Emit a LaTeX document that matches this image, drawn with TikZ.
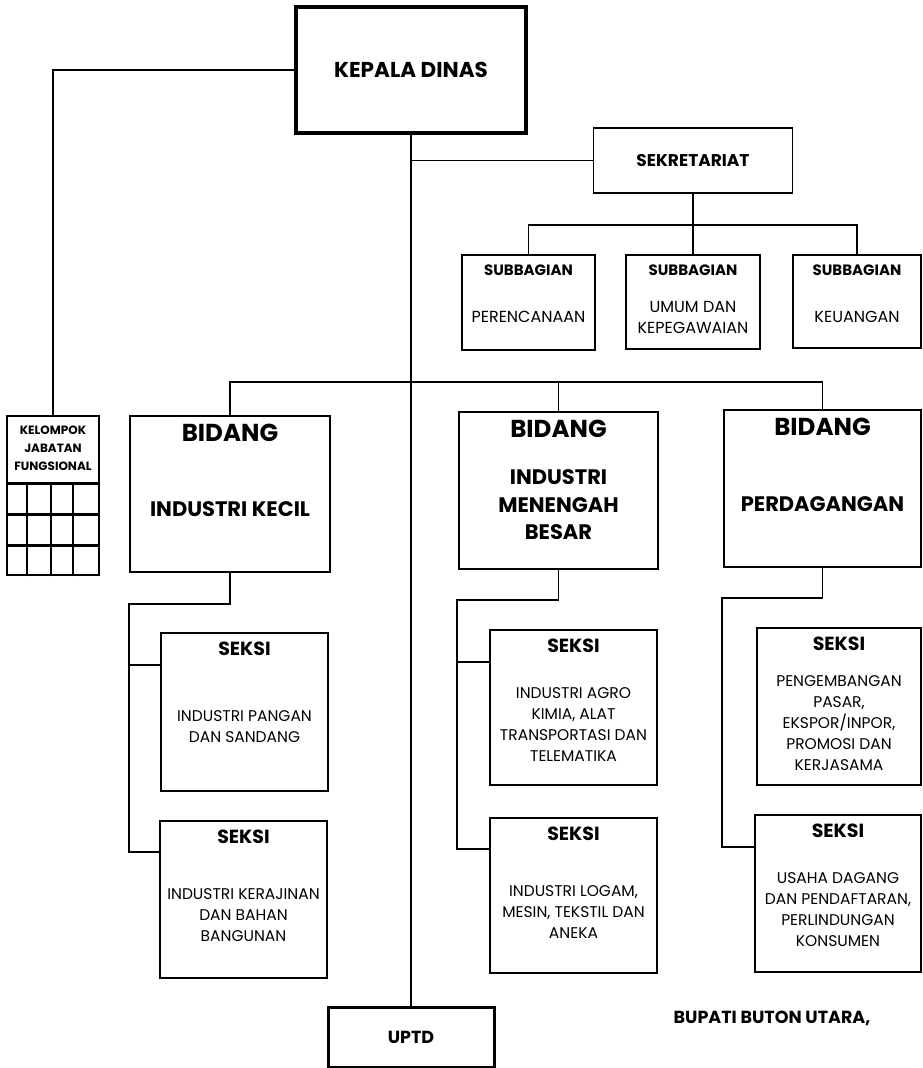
\documentclass[tikz,border=0pt]{standalone}
\usepackage{fontspec}
\setmainfont{Poppins}
\usetikzlibrary{positioning,calc}

\begin{document}
\begin{tikzpicture}[x=1pt,y=-1pt,
    box/.style={draw,line width=1.9pt,inner sep=0pt},
    link/.style={line width=1.9pt},
    head/.style={inner sep=0pt,font=\fontsize{#1}{#1}\selectfont\bfseries},
    body/.style={inner sep=0pt,align=center,font=\fontsize{#1}{21}\selectfont}]
    \useasboundingbox (0,0) rectangle (923,1068);
    % Kepala dinas and sekretariat
    \node[box,line width=3.5pt,minimum width=230pt,minimum height=126pt,head=21.5] (kadis) at (411,70) {KEPALA DINAS};
    \node[box,minimum width=199pt,minimum height=65pt,head=17] (sekr) at (693,160.5) {SEKRETARIAT};
    \node[box,minimum width=133pt,minimum height=95pt] (sub1) at (528.5,302.5) {};
    \node[box,minimum width=134pt,minimum height=94pt] (sub2) at (693,302) {};
    \node[box,minimum width=128pt,minimum height=93pt] (sub3) at (857,301.5) {};
    \node[head=15] (sub1t) at ($(sub1.north)+(0,16)$) {SUBBAGIAN};
    \node[head=15] (sub2t) at ($(sub2.north)+(0,16)$) {SUBBAGIAN};
    \node[head=15] (sub3t) at ($(sub3.north)+(0,16)$) {SUBBAGIAN};
    \node[body=16] (sub1b) at ($(sub1.north)+(0,63)$) {PERENCANAAN};
    \node[body=16] (sub2b) at ($(sub2.north)+(0,63)$) {UMUM DAN\\KEPEGAWAIAN};
    \node[body=16] (sub3b) at ($(sub3.north)+(0,63)$) {KEUANGAN};
    % Bidang
    \node[box,minimum width=200pt,minimum height=156pt] (bid1) at (230,494) {};
    \node[box,minimum width=199pt,minimum height=157pt] (bid2) at (558.5,490.5) {};
    \node[box,minimum width=197pt,minimum height=157pt] (bid3) at (822.5,488.5) {};
    \node[head=24.5] (bid1t) at ($(bid1.north)+(0,18)$) {BIDANG};
    \node[head=24.5] (bid2t) at ($(bid2.north)+(0,18)$) {BIDANG};
    \node[head=24.5] (bid3t) at ($(bid3.north)+(0,18)$) {BIDANG};
    \node[head=21,align=center] (bid1b) at ($(bid1.north)+(0,94)$) {INDUSTRI KECIL};
    \node[head=21,align=center,font=\fontsize{21}{27.5}\selectfont\bfseries] (bid2b) at ($(bid2.north)+(0,94)$) {INDUSTRI\\MENENGAH\\BESAR};
    \node[head=21,align=center] (bid3b) at ($(bid3.north)+(0,95)$) {PERDAGANGAN};
    % Kelompok jabatan fungsional
    \node[box,line width=2.8pt,minimum width=92pt,minimum height=159pt] (kjf) at (53,495.5) {};
    \node[head=12,align=center,font=\fontsize{12}{18}\selectfont\bfseries] (kjft) at ($(kjf.north)+(0,34)$) {KELOMPOK\\JABATAN\\FUNGSIONAL};
    \foreach \dy in {31,62,93}
      \draw[line width=2.2pt] ([yshift=\dy pt]kjf.south west) -- ([yshift=\dy pt]kjf.south east);
    \foreach \dx in {21,45,67}
      \draw[line width=2.2pt] ([xshift=\dx pt]kjf.south west) -- ([xshift=\dx pt,yshift=93pt]kjf.south west);
    % Seksi
    \node[box,minimum width=167pt,minimum height=158pt] (ik1) at (244.5,712) {};
    \node[box,minimum width=167pt,minimum height=157pt] (ik2) at (243.5,899.5) {};
    \node[box,minimum width=167pt,minimum height=155pt] (im1) at (573.5,707.5) {};
    \node[box,minimum width=167pt,minimum height=155pt] (im2) at (573.5,895.5) {};
    \node[box,minimum width=164pt,minimum height=157pt] (pd1) at (839,706.5) {};
    \node[box,minimum width=166pt,minimum height=157pt] (pd2) at (838,893.5) {};
    \node[head=19] (ik1t) at ($(ik1.north)+(0,17)$) {SEKSI};
    \node[head=19] (ik2t) at ($(ik2.north)+(0,17)$) {SEKSI};
    \node[head=19] (im1t) at ($(im1.north)+(0,17)$) {SEKSI};
    \node[head=19] (im2t) at ($(im2.north)+(0,17)$) {SEKSI};
    \node[head=19] (pd1t) at ($(pd1.north)+(0,17)$) {SEKSI};
    \node[head=19] (pd2t) at ($(pd2.north)+(0,17)$) {SEKSI};
    \node[body=15.5] (ik1b) at ($(ik1.north)+(0,95)$) {INDUSTRI PANGAN\\DAN SANDANG};
    \node[body=15.5] (ik2b) at ($(ik2.north)+(0,95)$) {INDUSTRI KERAJINAN\\DAN BAHAN\\BANGUNAN};
    \node[body=15.5] (im1b) at ($(im1.north)+(0,95)$) {INDUSTRI AGRO\\KIMIA, ALAT\\TRANSPORTASI DAN\\TELEMATIKA};
    \node[body=15.5] (im2b) at ($(im2.north)+(0,95)$) {INDUSTRI LOGAM,\\MESIN, TEKSTIL DAN\\ANEKA};
    \node[body=15.5] (pd1b) at ($(pd1.north)+(0,96)$) {PENGEMBANGAN\\PASAR,\\EKSPOR/INPOR,\\PROMOSI DAN\\KERJASAMA};
    \node[body=15.5] (pd2b) at ($(pd2.north)+(0,96)$) {USAHA DAGANG\\DAN PENDAFTARAN,\\PERLINDUNGAN\\KONSUMEN};
    % UPTD and signature
    \node[box,line width=3pt,minimum width=166pt,minimum height=60pt,head=17.5] (uptd) at (411,1037) {UPTD};
    \node[head=17.5] (bupati) at (772,1018) {BUPATI BUTON UTARA,};
    % Connectors
    \draw[link] (kadis.west) -| (kjf.north);
    \draw[link] (kadis.south) -- (uptd.north);
    \draw[link] (kadis.south |- sekr.west) -- (sekr.west);
    \coordinate (sbar) at (693,225);
    \draw[link] (sekr.south) -- (sub2.north);
    \draw[link] (sub1.north) |- (sbar) -| (sub3.north);
    \coordinate (bbar) at (411,382);
    \draw[link] (bid1.north) |- (bbar) -| (bid3.north);
    \draw[link] (bid2.north) -- (bid2.north |- bbar);
    \draw[link] (bid1.south) -- ++(0,31) -| ($(ik2.north west)+(-30,32)$) -- ($(ik2.north west)+(0,32)$);
    \draw[link] ($(ik1.north west)+(-31,33)$) -- ($(ik1.north west)+(0,33)$);
    \draw[link] (bid2.south) -- ++(0,30) -| ($(im2.north west)+(-32,32)$) -- ($(im2.north west)+(0,32)$);
    \draw[link] ($(im1.north west)+(-32,33)$) -- ($(im1.north west)+(0,33)$);
    \draw[link] (bid3.south) -- ++(0,30) -| ($(pd2.north west)+(-32,33)$) -- ($(pd2.north west)+(0,33)$);
\end{tikzpicture}
\end{document}
